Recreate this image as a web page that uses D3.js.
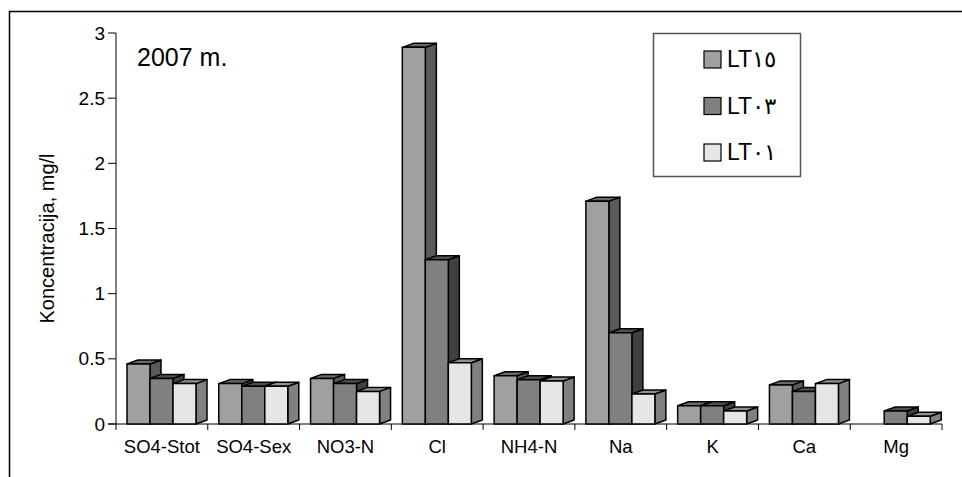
<!DOCTYPE html>
<html>
<head>
<meta charset="utf-8">
<script src="https://cdn.jsdelivr.net/npm/d3@7"></script>
<style>
  body { margin: 0; background: #fff; }
  svg { display: block; font-family: "Liberation Sans", Arial, sans-serif; }
</style>
</head>
<body>
<svg id="chart" width="962" height="477"></svg>
<script>
// ========== Data ==========
const categories = ['SO4-Stot', 'SO4-Sex', 'NO3-N', 'Cl', 'NH4-N', 'Na', 'K', 'Ca', 'Mg'];
const seriesNames = ['LT١٥', 'LT٠٣', 'LT٠١'];
const lt15 = [0.46, 0.31, 0.35, 2.89, 0.37, 1.71, 0.14, 0.30, null];
const lt03 = [0.35, 0.29, 0.31, 1.26, 0.34, 0.70, 0.14, 0.25, 0.10];
const lt01 = [0.31, 0.29, 0.25, 0.47, 0.33, 0.23, 0.10, 0.31, 0.06];
const yTicks = [0, 0.5, 1, 1.5, 2, 2.5, 3];

const series = [lt15, lt03, lt01];
// front, side, top
const shades = [
  ['#a0a0a0', '#5a5a5a', '#6a6a6a'],
  ['#808080', '#404040', '#505050'],
  ['#e6e6e6', '#808080', '#909090'],
];

// ========== Layout ==========
const svg = d3.select('#chart');
const x0 = 116, x1 = 942, yTop = 33, yBase = 424;
const depthX = 11, depthY = 4;

const x = d3.scaleBand().domain(categories).range([x0, x1]);
const xInner = d3.scaleBand().domain(d3.range(3)).range([11, 80]);
const y = d3.scaleLinear().domain([0, 3]).range([yBase, yTop]);

// outer frame
svg.append('path')
  .attr('d', 'M9.5,477 V11.5 H970')
  .attr('fill', 'none').attr('stroke', '#000').attr('stroke-width', 1.5);

// ========== Axes ==========
const gy = svg.append('g');
gy.append('line').attr('x1', x0).attr('x2', x0).attr('y1', yTop).attr('y2', yBase + 6)
  .attr('stroke', '#000');
yTicks.forEach((t) => {
  gy.append('line').attr('x1', x0 - 8).attr('x2', x0).attr('y1', y(t)).attr('y2', y(t))
    .attr('stroke', '#000');
  gy.append('text').attr('x', x0 - 11).attr('y', y(t)).attr('dy', '0.35em')
    .attr('text-anchor', 'end').attr('font-size', 19).text(t);
});

svg.append('text')
  .attr('transform', `translate(47,${(yTop + yBase) / 2 + 10}) rotate(-90)`)
  .attr('text-anchor', 'middle').attr('dy', '0.35em').attr('font-size', 20)
  .text('Koncentracija, mg/l');

const gx = svg.append('g');
gx.append('line').attr('x1', x0 - 8).attr('x2', x1).attr('y1', yBase).attr('y2', yBase)
  .attr('stroke', '#000');
categories.forEach((c) => {
  gx.append('line').attr('x1', x(c) + x.bandwidth()).attr('x2', x(c) + x.bandwidth())
    .attr('y1', yBase).attr('y2', yBase + 6).attr('stroke', '#000');
  gx.append('text').attr('x', x(c) + x.bandwidth() / 2).attr('y', 453)
    .attr('text-anchor', 'middle').attr('font-size', 18.5).text(c);
});

// ========== 3D bars ==========
const gb = svg.append('g').attr('stroke', '#000').attr('stroke-width', 1.5)
  .attr('stroke-linejoin', 'round');
categories.forEach((c, ci) => {
  series.forEach((vals, si) => {
    const v = vals[ci];
    if (v == null) return;
    const bx = x(c) + xInner(si);
    const bw = xInner.bandwidth();
    const ty = y(v);
    // side
    gb.append('path').attr('fill', shades[si][1])
      .attr('d', `M${bx + bw},${ty} L${bx + bw + depthX},${ty - depthY} L${bx + bw + depthX},${yBase - depthY} L${bx + bw},${yBase} Z`);
    // top
    gb.append('path').attr('fill', shades[si][2])
      .attr('d', `M${bx},${ty} L${bx + depthX},${ty - depthY} L${bx + bw + depthX},${ty - depthY} L${bx + bw},${ty} Z`);
    // front
    gb.append('rect').attr('fill', shades[si][0])
      .attr('x', bx).attr('y', ty).attr('width', bw).attr('height', yBase - ty);
  });
});

// ========== Label & legend ==========
svg.append('text').attr('x', 137).attr('y', 66).attr('font-size', 25).text('2007 m.');

const lg = svg.append('g');
lg.append('rect').attr('x', 653.5).attr('y', 33.5).attr('width', 147).attr('height', 143)
  .attr('fill', '#fff').attr('stroke', '#555').attr('stroke-width', 1.5);
const ly = d3.scalePoint().domain(seriesNames).range([59, 152]);
seriesNames.forEach((n, i) => {
  lg.append('rect').attr('x', 704).attr('y', ly(n) - 8).attr('width', 17).attr('height', 17)
    .attr('fill', shades[i][0]).attr('stroke', '#000').attr('stroke-width', 1.2);
  lg.append('text').attr('x', 727).attr('y', ly(n)).attr('dy', '0.36em')
    .attr('font-size', 23).text(n);
});
</script>
</body>
</html>
